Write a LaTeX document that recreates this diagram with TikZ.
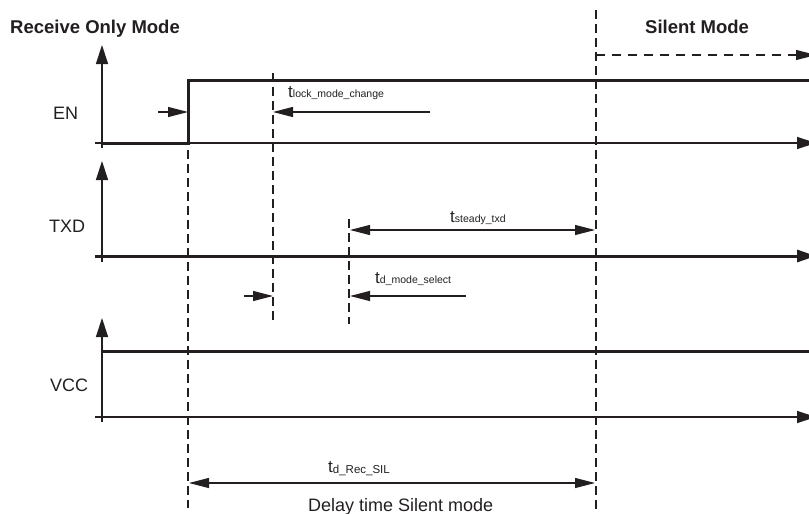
\documentclass[tikz,border=0pt]{standalone}
\usepackage{fontspec}
\setmainfont{Liberation Sans}
\usetikzlibrary{arrows.meta,positioning}
\definecolor{ink}{HTML}{231F20}
\newcommand{\tsub}[2][10.5]{{\fontsize{#1}{#1}\selectfont #2}}

\begin{document}
\begin{tikzpicture}[
  x=1pt, y=-1pt,
  axis/.style={draw=ink, line width=1.3pt, -{Triangle[length=19pt,width=12pt]}},
  signal/.style={draw=ink, line width=3pt},
  marker/.style={draw=ink, line width=1.2pt, dash pattern=on 9pt off 5pt},
  timing/.style={draw=ink, line width=1.2pt},
  tiptr/.style={-{Triangle[length=20pt,width=10pt]}},
  tipboth/.style={{Triangle[length=20pt,width=10pt]}-{Triangle[length=20pt,width=10pt]}},
  title/.style={font=\fontsize{18.5}{20}\selectfont\bfseries, text=ink, inner sep=0pt, anchor=base west},
  lbl/.style={font=\fontsize{18}{20}\selectfont, text=ink, inner sep=0pt, anchor=base west},
  tlabel/.style={font=\fontsize{17}{18}\selectfont, text=ink, inner sep=0pt, anchor=base west}
]
\useasboundingbox (0,0) rectangle (809,514);

% mode headers
\node[title] (recv) at (10,34) {Receive Only Mode};
\node[title] (silent) at (645,33) {Silent Mode};

% signal names
\node[lbl] (en) at (53,119) {EN};
\node[lbl] (txd) at (49,232) {TXD};
\node[lbl] (vcc) at (50,391) {VCC};

% EN
\coordinate (en-y0) at (102,148);
\coordinate (en-y1) at (102,45);
\coordinate (en-x0) at (95,143);
\coordinate (en-x1) at (816,143);
\coordinate (en-low) at (102,143);
\coordinate (en-edge) at (188,143);
\coordinate (en-high) at (188,80);
\coordinate (en-end) at (812,80);
\draw[axis] (en-y0) -- (en-y1);
\draw[axis] (en-x0) -- (en-x1);
\draw[signal] (en-low) -- (en-edge) -- (en-high) -- (en-end);

% TXD
\coordinate (txd-y0) at (102,262);
\coordinate (txd-y1) at (102,161);
\coordinate (txd-x0) at (95,256);
\coordinate (txd-x1) at (816,256);
\draw[axis] (txd-y0) -- (txd-y1);
\draw[axis, line width=3pt] (txd-x0) -- (txd-x1);

% VCC
\coordinate (vcc-y0) at (102,422);
\coordinate (vcc-y1) at (102,318);
\coordinate (vcc-x0) at (95,417);
\coordinate (vcc-x1) at (816,417);
\coordinate (vcc-on) at (102,351);
\coordinate (vcc-end) at (812,351);
\draw[axis] (vcc-y0) -- (vcc-y1);
\draw[axis] (vcc-x0) -- (vcc-x1);
\draw[signal] (vcc-on) -- (vcc-end);

% dashed time marks
\coordinate (m1-top) at (188,150);
\coordinate (m1-bot) at (188,508);
\coordinate (m2-top) at (273,73);
\coordinate (m2-bot) at (273,322);
\coordinate (m3-top) at (349,219);
\coordinate (m3-bot) at (349,324);
\coordinate (m4-top) at (596,10);
\coordinate (m4-bot) at (596,516);
\draw[marker] (m1-top) -- (m1-bot);
\draw[marker] (m2-top) -- (m2-bot);
\draw[marker] (m3-top) -- (m3-bot);
\draw[marker] (m4-top) -- (m4-bot);

% silent mode span
\coordinate (sil-start) at (596,55);
\coordinate (sil-end) at (816,55);
\draw[marker, dash pattern=on 9pt off 7pt, tiptr] (sil-start) -- (sil-end);

% t_lock_mode_change
\coordinate (lock-a) at (158,112);
\coordinate (lock-b) at (188,112);
\coordinate (lock-c) at (430,112);
\coordinate (lock-d) at (273,112);
\draw[timing, tiptr] (lock-a) -- (lock-b);
\draw[timing, tiptr] (lock-c) -- (lock-d);
\node[tlabel] (lock) at (288,97) {t\tsub{lock\_mode\_change}};

% t_steady_txd
\coordinate (steady-a) at (350,230);
\coordinate (steady-b) at (595,230);
\draw[timing, tipboth] (steady-a) -- (steady-b);
\node[tlabel] (steady) at (450,222) {t\tsub{steady\_txd}};

% t_d_mode_select
\coordinate (sel-a) at (244,296);
\coordinate (sel-b) at (273,296);
\coordinate (sel-c) at (466,296);
\coordinate (sel-d) at (350,296);
\draw[timing, tiptr] (sel-a) -- (sel-b);
\draw[timing, tiptr] (sel-c) -- (sel-d);
\node[tlabel] (select) at (375,283) {t\tsub{d\_mode\_select}};

% t_d_Rec_SIL
\coordinate (rec-a) at (189,483);
\coordinate (rec-b) at (595,483);
\draw[timing, tipboth] (rec-a) -- (rec-b);
\node[tlabel] (rec) at (328,472) {t\raisebox{-1pt}{\tsub[11.5]{d\_Rec\_SIL}}};
\node[lbl] (delay) at (308,511) {Delay time Silent mode};
\end{tikzpicture}
\end{document}
